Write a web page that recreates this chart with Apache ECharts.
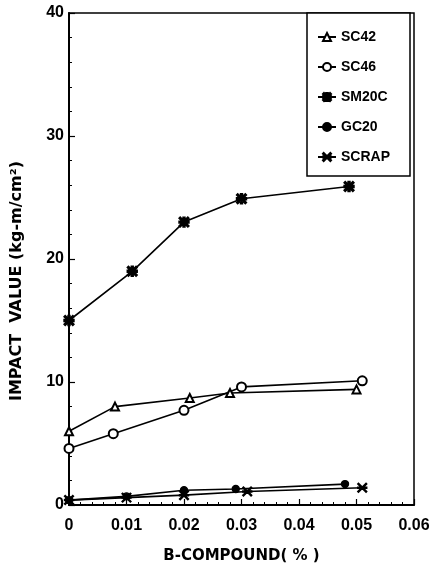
<!DOCTYPE html>
<html>
<head>
<meta charset="utf-8">
<script src="https://cdn.jsdelivr.net/npm/echarts@6/dist/echarts.min.js"></script>
<style>
  html, body { margin: 0; padding: 0; background: #fff; }
  #main { width: 436px; height: 570px; }
</style>
</head>
<body>
<div id="main"></div>
<script>
// 数据
let seriesNames = ['SC42', 'SC46', 'SM20C', 'GC20', 'SCRAP'];
let sc42 = [[0, 6.0], [0.008, 8.0], [0.021, 8.7], [0.028, 9.1], [0.050, 9.4]];
let sc46 = [[0, 4.6], [0.0077, 5.8], [0.020, 7.7], [0.030, 9.6], [0.051, 10.1]];
let sm20c = [[0, 15.0], [0.011, 19.0], [0.020, 23.0], [0.030, 24.9], [0.0487, 25.9]];
let gc20 = [[0, 0.4], [0.010, 0.7], [0.020, 1.2], [0.029, 1.3], [0.048, 1.7]];
let scrap = [[0, 0.4], [0.010, 0.6], [0.020, 0.8], [0.031, 1.1], [0.051, 1.4]];

let xTicks = [0, 0.01, 0.02, 0.03, 0.04, 0.05, 0.06];
let yTicks = [0, 10, 20, 30, 40];

// 标记形状
let heavyStar = 'path://M0,4 L10,4 L10,6 L0,6 Z M4,0 L6,0 L6,10 L4,10 Z M0,1.2 L1.2,0 L10,8.8 L8.8,10 Z M8.8,0 L10,1.2 L1.2,10 L0,8.8 Z';
let thinStar = 'path://M0,4.4 L10,4.4 L10,5.6 L0,5.6 Z M0,0.8 L0.8,0 L10,9.2 L9.2,10 Z M9.2,0 L10,0.8 L0.8,10 L0,9.2 Z';

let font = 'Liberation Sans, Arial, sans-serif';
let wideFont = 'DejaVu Sans, sans-serif';

let makeSeries = function (name, data, symbol, size) {
    return {
        name: name,
        type: 'line',
        data: data,
        symbol: symbol,
        symbolSize: size,
        lineStyle: { color: '#000', width: 1.6 },
        itemStyle: { color: '#000', borderColor: '#000', borderWidth: 1.4 },
        emphasis: { disabled: true },
        z: 3
    };
};

let chart = echarts.init(document.getElementById('main'));
chart.setOption({
    animation: false,
    backgroundColor: '#fff',
    grid: {
        left: 69, right: 22, top: 13, bottom: 65,
        show: true, borderColor: '#000', borderWidth: 1.5
    },
    legend: {
        orient: 'vertical',
        left: 307,
        top: 13,
        padding: [17, 20, 12, 10],
        itemGap: 16,
        itemWidth: 18,
        itemHeight: 10,
        borderColor: '#000',
        borderWidth: 1.5,
        backgroundColor: '#fff',
        data: seriesNames,
        textStyle: { fontFamily: font, fontSize: 14, fontWeight: 'bold', color: '#000' }
    },
    xAxis: {
        type: 'value',
        min: xTicks[0],
        max: xTicks[xTicks.length - 1],
        interval: 0.01,
        name: 'B-COMPOUND( % )',
        nameLocation: 'middle',
        nameGap: 44,
        nameTextStyle: { fontFamily: wideFont, fontSize: 15, fontWeight: 'bold', color: '#000' },
        axisLine: { lineStyle: { color: '#000', width: 2 } },
        axisTick: { inside: true, length: 6, lineStyle: { color: '#000', width: 1.2 } },
        minorTick: { show: true, splitNumber: 5, length: 3, lineStyle: { color: '#000' } },
        splitLine: { show: false },
        axisLabel: {
            margin: 13,
            fontFamily: font, fontSize: 16, fontWeight: 'bold', color: '#000',
            formatter: function (v) { return v === 0 ? '0' : v.toFixed(2); }
        }
    },
    yAxis: {
        type: 'value',
        min: yTicks[0],
        max: yTicks[yTicks.length - 1],
        interval: 10,
        name: 'IMPACT  VALUE (kg-m/cm²)',
        nameLocation: 'middle',
        nameGap: 44,
        nameTextStyle: { fontFamily: wideFont, fontSize: 16, fontWeight: 'bold', color: '#000', padding: [0, 44, 0, 0] },
        axisLine: { lineStyle: { color: '#000', width: 2 } },
        axisTick: { inside: true, length: 6, lineStyle: { color: '#000', width: 1.2 } },
        minorTick: { show: true, splitNumber: 5, length: 3, lineStyle: { color: '#000' } },
        splitLine: { show: false },
        axisLabel: { margin: 5, fontFamily: font, fontSize: 16, fontWeight: 'bold', color: '#000' }
    },
    series: [
        makeSeries('SC42', sc42, 'emptyTriangle', 8),
        makeSeries('SC46', sc46, 'emptyCircle', 9),
        makeSeries('SM20C', sm20c, heavyStar, 10),
        makeSeries('GC20', gc20, 'circle', 7),
        makeSeries('SCRAP', scrap, thinStar, 9)
    ]
});
</script>
</body>
</html>
